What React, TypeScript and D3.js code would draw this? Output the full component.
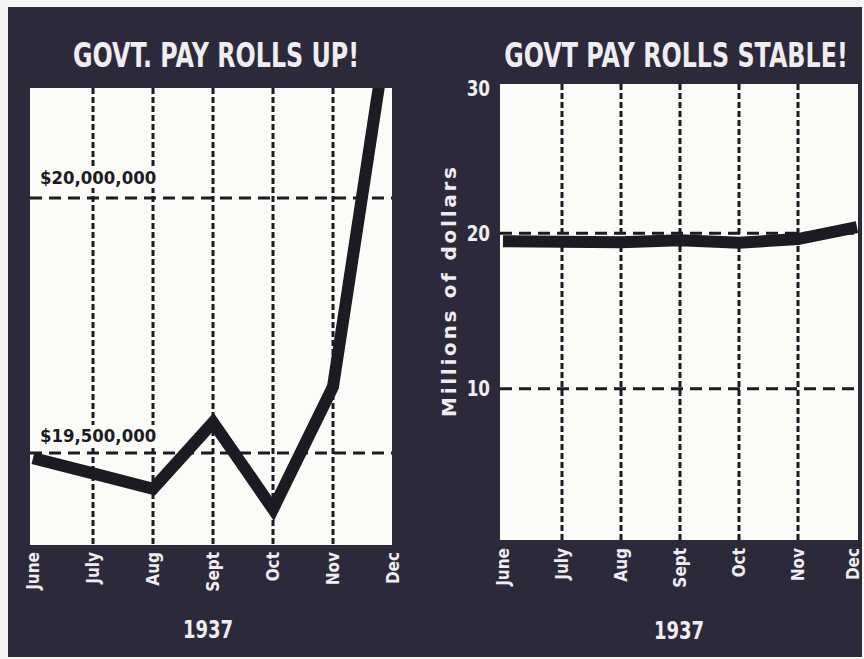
import React from 'react';
import * as d3 from 'd3';

// monthly government pay rolls, millions of dollars
const months = ['June', 'July', 'Aug', 'Sept', 'Oct', 'Nov', 'Dec'];
const payroll = [19.49, 19.46, 19.43, 19.56, 19.39, 19.63, 20.4];
const leftRefValues = [19.5, 20];
const leftRefLabels = ['$19,500,000', '$20,000,000'];
const rightTicks = [10, 20, 30];
const yearLabel = '1937';
const titles = ['GOVT. PAY ROLLS UP!', 'GOVT PAY ROLLS STABLE!'];
const yTitle = 'Millions of dollars';

const W = 864;
const H = 659;
const bg = '#2c2a3a';
const ink = '#1c1b24';
const paper = '#fbfbf8';
const light = '#efedf0';
const font = "'DejaVu Sans',sans-serif";

// left panel: truncated axis
const L = { x0: 30, x1: 392, y0: 88, y1: 545 };
const xL = d3.scaleLinear().domain([0, months.length - 1]).range([33, 393]);
const yL = d3.scaleLinear().domain([19.5, 20]).range([453, 198]);

// right panel: zero based axis
const R = { x0: 500, x1: 858, y0: 84, y1: 540 };
const xR = d3.scaleLinear().domain([0, months.length - 1]).range([503, 857]);
const yR = d3.scaleLinear().domain([0, 30]).range([544, 78]);

const Panel = ({ box, x, y, id, children }) => {
  const line = d3.line<number>()
    .x((d, i) => x(i))
    .y(d => y(d));
  return (
    <g>
      <clipPath id={id}>
        <rect x={box.x0} y={box.y0} width={box.x1 - box.x0} height={box.y1 - box.y0} />
      </clipPath>
      <rect x={box.x0} y={box.y0} width={box.x1 - box.x0} height={box.y1 - box.y0} fill={paper} />
      <g clipPath={`url(#${id})`}>
        {months.slice(1, -1).map((m, i) => (
          <line key={m} x1={x(i + 1)} x2={x(i + 1)} y1={box.y0} y2={box.y1}
            stroke={ink} strokeWidth={3} strokeDasharray="6 3" />
        ))}
        {children}
        <path d={line(payroll)} fill="none" stroke={ink} strokeWidth={12}
          strokeLinejoin="miter" />
      </g>
    </g>
  );
};

// narrow lettering: squeeze text horizontally (in its own frame)
const Narrow = ({ x, y, rotate = 0, sx = 0.75, anchor = 'middle', size, fill, children }) => (
  <text transform={`translate(${x},${y}) rotate(${rotate}) scale(${sx},1)`}
    textAnchor={anchor} dy="0.35em" fontSize={size} fontWeight="bold"
    fontFamily={font} fill={fill}>{children}</text>
);

const MonthLabels = ({ x, top }) => (
  <g>
    {months.map((m, i) => (
      <Narrow key={m} x={Math.min(x(i), 853)} y={top} rotate={-90} sx={0.9}
        anchor="end" size={17} fill={light}>{m}</Narrow>
    ))}
  </g>
);

export default function App() {
  return (
    <svg width={W} height={H} style={{ position: 'absolute', left: 0, top: 0 }}>
      <rect width={W} height={H} fill="#f4f4f4" />
      <rect x={8} y={7} width={W - 10} height={H - 9} fill={bg} />

      {/* titles */}
      <Narrow x={216} y={55} sx={0.7} size={34} fill={light}>{titles[0]}</Narrow>
      <Narrow x={676} y={55} sx={0.7} size={34} fill={light}>{titles[1]}</Narrow>

      {/* left chart */}
      <Panel box={L} x={xL} y={yL} id="clipL">
        {leftRefValues.map((v, i) => (
          <g key={v}>
            <line x1={L.x0} x2={L.x1} y1={yL(v)} y2={yL(v)} stroke={ink}
              strokeWidth={3} strokeDasharray="12 7" />
            <rect x={38} y={yL(v) - (i === 0 ? 28 : 32)} width={i === 0 ? 128 : 138} height={22} fill={paper} />
            <Narrow x={40} y={yL(v) - (i === 0 ? 17 : 20)} sx={0.92} anchor="start"
              size={18} fill={ink}>{leftRefLabels[i]}</Narrow>
          </g>
        ))}
      </Panel>
      <MonthLabels x={xL} top={552} />
      <Narrow x={208} y={630} sx={0.75} size={24} fill={light}>{yearLabel}</Narrow>

      {/* right chart */}
      <Panel box={R} x={xR} y={yR} id="clipR">
        {rightTicks.filter(t => t < 30).map(t => (
          <line key={t} x1={R.x0} x2={R.x1} y1={yR(t)} y2={yR(t)} stroke={ink}
            strokeWidth={3} strokeDasharray="12 7" />
        ))}
      </Panel>
      {rightTicks.map(t => (
        <Narrow key={t} x={490} y={Math.max(yR(t), 89)} anchor="end" sx={0.8}
          size={21} fill={light}>{t}</Narrow>
      ))}
      <text transform="translate(449,292) rotate(-90)" textAnchor="middle" dy="0.35em"
        fontSize={20} fontWeight="bold" fontFamily={font} fill={light}
        textLength={250} lengthAdjust="spacing">{yTitle}</text>
      <MonthLabels x={xR} top={548} />
      <Narrow x={679} y={631} sx={0.75} size={24} fill={light}>{yearLabel}</Narrow>
    </svg>
  );
}
